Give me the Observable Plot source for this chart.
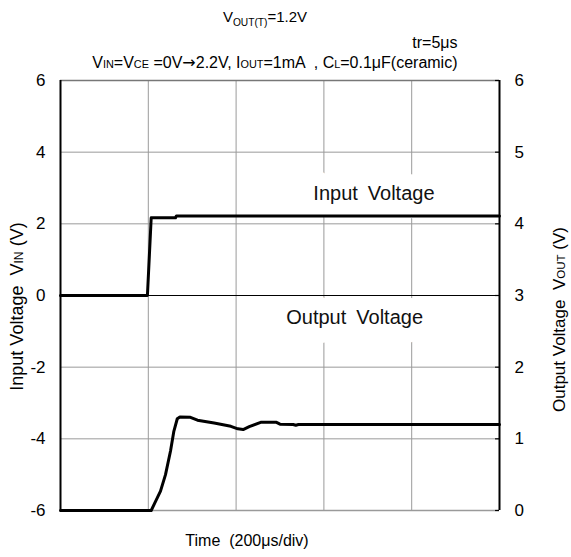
<!DOCTYPE html>
<html>
<head>
<meta charset="utf-8">
<script src="https://cdn.jsdelivr.net/npm/d3@7"></script>
<script src="https://cdn.jsdelivr.net/npm/@observablehq/plot@0.6"></script>
<style>
  html, body { margin: 0; padding: 0; background: #fff; }
  #chart svg text { white-space: pre; }
</style>
</head>
<body>
<div id="chart"></div>
<script>
// ---- data (time in divisions of 200 µs) ----
const inTime  = [0, 0.99, 1.033, 1.31, 1.32, 5];
const inVolt  = [0, 0, 2.17, 2.17, 2.22, 2.22];

const outTime = [0, 1.033, 1.08, 1.139, 1.196, 1.253, 1.29, 1.33, 1.36, 1.48, 1.56, 1.75, 1.94, 2.02, 2.08, 2.15, 2.28, 2.46, 2.5, 2.65, 2.68, 2.71, 5];
const outVolt = [0, 0, 0.12, 0.27, 0.5, 0.83, 1.1, 1.28, 1.305, 1.3, 1.26, 1.22, 1.175, 1.14, 1.13, 1.17, 1.23, 1.23, 1.205, 1.2, 1.19, 1.2, 1.2];

const leftTicks  = [-6, -4, -2, 0, 2, 4, 6];        // Input voltage (V)
const rightTicks = [0, 1, 2, 3, 4, 5, 6];           // Output voltage (V)
const divLines   = [1, 2, 3, 4];
const curveLabels = ["Input\u2002Voltage", "Output\u2002Voltage"];
const curveLabelX = [3.57, 3.35];
const curveLabelY = [2.83, -0.62];

// output voltage is drawn on the left scale: left = 2*Vout - 6
const toLeft = v => 2 * v - 6;

const inData  = inTime.map((t, i) => ({t, v: inVolt[i]}));
const outData = outTime.map((t, i) => ({t, v: toLeft(outVolt[i])}));
const labelData = curveLabels.map((s, i) => ({s, x: curveLabelX[i], y: curveLabelY[i]}));

const chart = Plot.plot({
  width: 571,
  height: 557,
  marginLeft: 60,
  marginRight: 72,
  marginTop: 80,
  marginBottom: 47,
  style: "font-family: 'Liberation Sans', Arial, sans-serif; font-size: 17px; background: #fff; color: #000; overflow: visible;",
  x: {domain: [0, 5], axis: null},
  y: {domain: [-6, 6], axis: null},
  marks: [
    // vertical division lines
    Plot.ruleX(divLines, {stroke: "#9a9a9a", strokeWidth: 1}),
    // curve labels with white halo (hides grid behind)
    Plot.text(labelData, {x: "x", y: "y", text: "s", fontSize: 20, fill: "#111", stroke: "#fff", strokeWidth: 30, strokeLinejoin: "round"}),
    // horizontal grid
    Plot.ruleY(leftTicks.filter(d => d !== 0 && Math.abs(d) !== 6), {stroke: "#9a9a9a", strokeWidth: 1}),
    Plot.ruleY([6], {stroke: "#777", strokeWidth: 1.5}),
    Plot.ruleY([-6], {stroke: "#9a9a9a", strokeWidth: 1.5}),
    Plot.ruleY([0], {stroke: "#000", strokeWidth: 1}),
    // frame sides
    Plot.ruleX([0, 5], {stroke: "#000", strokeWidth: 2}),
    // right inner ticks
    Plot.ruleY(rightTicks.map(toLeft), {x1: 4.955, x2: 5, stroke: "#000", strokeWidth: 1.2}),
    // axes
    Plot.axisY(leftTicks, {anchor: "left", tickSize: 0, tickPadding: 15, fontSize: 17, label: null, tickFormat: d => String(d)}),
    Plot.axisY(rightTicks.map(toLeft), {anchor: "right", tickSize: 0, tickPadding: 15, fontSize: 17, label: null, tickFormat: d => String((d + 6) / 2)}),
    // data lines
    Plot.line(inData, {x: "t", y: "v", stroke: "#000", strokeWidth: 3, strokeLinejoin: "round"}),
    Plot.line(outData, {x: "t", y: "v", stroke: "#000", strokeWidth: 3, strokeLinejoin: "round"}),
    // titles
    Plot.text(["V_{OUT(T)}=1.2V"], {frameAnchor: "top", textAnchor: "middle", dx: -15, dy: -63, fontSize: 15, lineAnchor: "middle"}),
    Plot.text(["tr=5μs"], {frameAnchor: "top-right", textAnchor: "end", dx: -42, dy: -38, fontSize: 16, lineAnchor: "middle"}),
    Plot.text(["V~{IN}=V~{CE} =0V!{→}2.2V, I~{OUT}=1mA  , C~{L}=0.1μF(ceramic)"], {frameAnchor: "top-right", textAnchor: "end", dx: -42, dy: -18, fontSize: 16, lineAnchor: "middle"}),
    // axis titles
    Plot.text(["Input Voltage  V~{IN} (V)"], {frameAnchor: "left", textAnchor: "middle", rotate: -90, dx: -43, dy: 11, fontSize: 18, lineAnchor: "middle"}),
    Plot.text(["Output Voltage  V~{OUT} (V)"], {frameAnchor: "right", textAnchor: "middle", rotate: -90, dx: 60, dy: 24, fontSize: 17, lineAnchor: "middle"}),
    Plot.text(["Time  (200μs/div)"], {frameAnchor: "bottom", textAnchor: "middle", dx: -33, dy: 30, fontSize: 16, lineAnchor: "middle"})
  ]
});

// rich text: _{...} lowered subscript, ~{...} small letters on baseline, !{...} symbol font
d3.select(chart).selectAll("text").each(function() {
  const el = this;
  const s = el.textContent;
  if (!/[_~!]\{/.test(s)) return;
  while (el.firstChild) el.removeChild(el.firstChild);
  const re = /([_~!])\{([^}]*)\}/g;
  let last = 0, m, shift = 0;
  const add = (txt, kind, dy) => {
    const ts = document.createElementNS("http://www.w3.org/2000/svg", "tspan");
    ts.textContent = txt;
    if (kind === "small") ts.setAttribute("font-size", "0.68em");
    if (kind === "sym") ts.setAttribute("font-family", "DejaVu Sans");
    if (dy) ts.setAttribute("dy", dy);
    el.appendChild(ts);
  };
  while ((m = re.exec(s))) {
    if (m.index > last) { add(s.slice(last, m.index), null, shift ? String(-shift) : null); shift = 0; }
    if (m[1] === "_") { add(m[2], "small", "4"); shift = 4; }
    else { add(m[2], m[1] === "!" ? "sym" : "small", shift ? String(-shift) : null); shift = 0; }
    last = re.lastIndex;
  }
  if (last < s.length) add(s.slice(last), null, shift ? String(-shift) : null);
});

document.getElementById("chart").appendChild(chart);
</script>
</body>
</html>
